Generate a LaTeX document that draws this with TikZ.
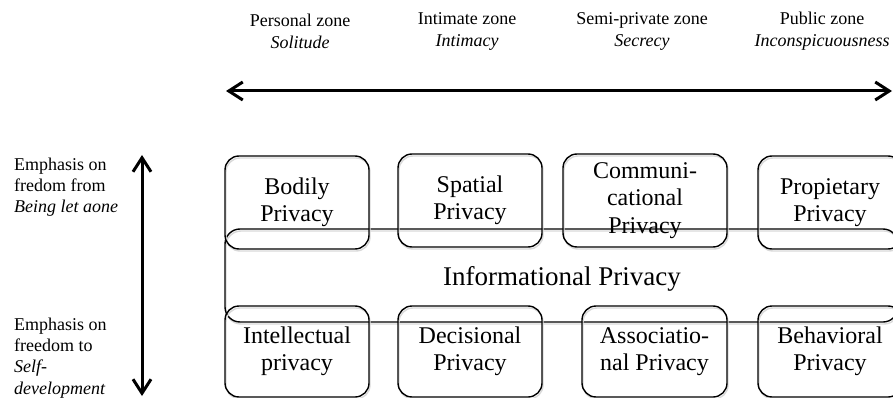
\documentclass[tikz,border=0pt]{standalone}
\usepackage{fontspec}
\setmainfont{Liberation Serif}
\usetikzlibrary{arrows.meta,shadows}

\begin{document}
\begin{tikzpicture}[x=1pt,y=-1pt,
  zonelbl/.style={align=center, inner sep=0pt, font=\fontsize{18}{22}\selectfont},
  sidelbl/.style={align=left, anchor=west, inner sep=0pt, font=\fontsize{18}{21.3}\selectfont},
  boxshadow/.style={general shadow={shadow xshift=1pt, shadow yshift=-2pt, draw=black!15, line width=1.4pt}},
  privbox/.style={draw, line width=1.4pt, rounded corners=14pt, align=center, inner sep=0pt,
    minimum width=144pt, minimum height=93pt, font=\fontsize{24}{27.5}\selectfont, boxshadow},
  axisarrow/.style={line width=3pt,
    {Straight Barb[length=14pt,width=18pt]}-{Straight Barb[length=14pt,width=18pt]}}
]
\useasboundingbox (0,0) rectangle (893,398);
\clip (0,0) rectangle (893,398);

% zones along the horizontal axis
\node[zonelbl] (personal) at (300,31) {Personal zone\\\textit{Solitude}};
\node[zonelbl] (intimate) at (467,31) {Intimate zone\\\textit{Intimacy}};
\node[zonelbl] (semi)     at (642,31) {Semi-private zone\\\textit{Secrecy}};
\node[zonelbl] (public)   at (822,31) {Public zone\\\textit{Inconspicuousness}};

\coordinate (hl) at (226,91);
\coordinate (hr) at (892,91);
\draw[axisarrow] (hl) -- (hr);

% emphasis along the vertical axis
\node[sidelbl] (beinglet) at (14,187) {Emphasis on\\fredom from\\\textit{Being let aone}};
\node[sidelbl] (selfdev)  at (14,358) {Emphasis on\\freedom to\\\textit{Self-}\\\textit{development}};

\coordinate (vt) at (142,155);
\coordinate (vb) at (142,396);
\draw[axisarrow] (vt) -- (vb);

% informational privacy spans both rows
\node[privbox, minimum width=673pt, minimum height=93pt, rounded corners=15pt] (info) at (561.5,275.5) {};
\node[inner sep=0pt, font=\fontsize{27}{30}\selectfont] (infotext) at (562,279) {Informational Privacy};

% upper row
\node[privbox] (bodily)  at (297,202.5) {Bodily\\Privacy};
\node[privbox] (spatial) at (470,200.5) {Spatial\\Privacy};
\node[privbox, minimum width=164pt] (comm) at (645,200.5) {Communi-\\cational\\Privacy};
\node[privbox] (prop)    at (830,202.5) {Propietary\\Privacy};

% lower row
\node[privbox, minimum height=91pt] (intel) at (297,351.5) {Intellectual\\privacy};
\node[privbox, minimum height=91pt] (decis) at (470,351.5) {Decisional\\Privacy};
\node[privbox, minimum height=91pt, minimum width=145pt] (assoc) at (654.5,351.5) {Associatio-\\nal Privacy};
\node[privbox, minimum height=91pt] (behav) at (830,351.5) {Behavioral\\Privacy};
\end{tikzpicture}
\end{document}
